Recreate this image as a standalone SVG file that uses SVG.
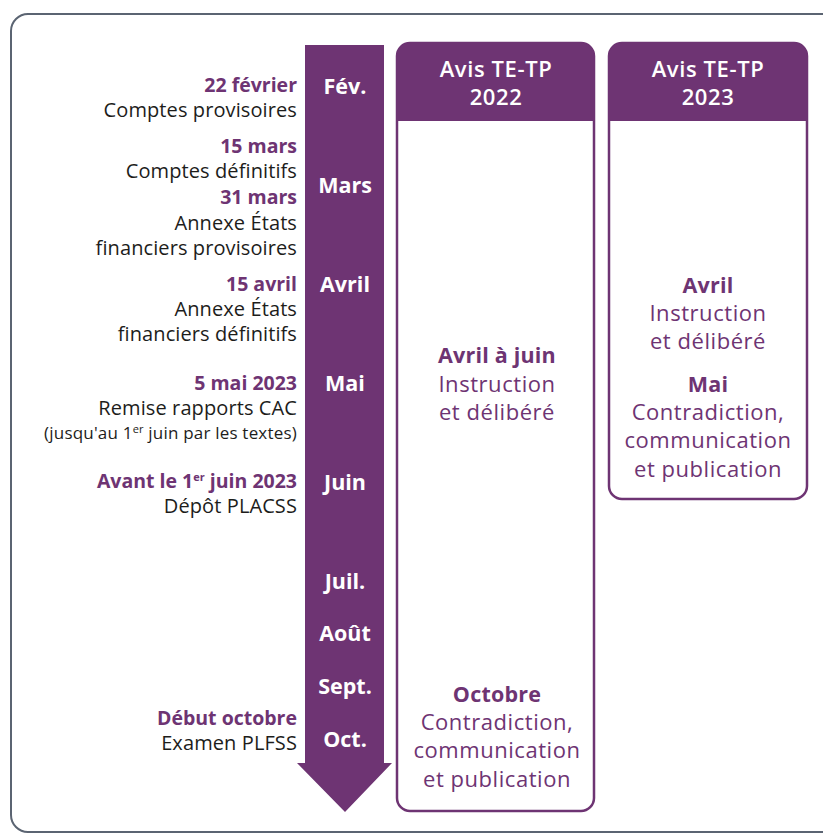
<svg xmlns="http://www.w3.org/2000/svg" width="823" height="834" viewBox="0 0 823 834">
<style>
.l{font-family:"Open Sans","Liberation Sans",sans-serif;font-size:20px;letter-spacing:0.1px;text-anchor:end;fill:#1d1d1b}
.lb{font-size:19.5px;letter-spacing:0;font-weight:700;fill:#6e3473}
.s{font-size:17px;letter-spacing:0.2px}
.m{font-family:"Open Sans","Liberation Sans",sans-serif;font-size:21.5px;font-weight:700;fill:#ffffff;text-anchor:middle}
.h{font-family:"Open Sans","Liberation Sans",sans-serif;font-size:22px;letter-spacing:0.6px;font-weight:600;fill:#ffffff;text-anchor:middle}
.b{font-family:"Open Sans","Liberation Sans",sans-serif;font-size:22px;letter-spacing:0.55px;fill:#6e3473;text-anchor:middle}
.bb{font-weight:700;font-size:21.5px;letter-spacing:0.2px}
.box{fill:#ffffff;stroke:#6e3473;stroke-width:2.5}
.sup{font-size:11px}
</style>
<rect x="11" y="14" width="840" height="818" rx="17" fill="#ffffff" stroke="#5b6472" stroke-width="2"/>

<g id="timeline">
<path d="M305 45 H384 V763 H392 L345 812 L297 763 H305 Z" fill="#6e3473"/>
<text class="m" x="345" y="94">Fév.</text>
<text class="m" x="345" y="193">Mars</text>
<text class="m" x="345" y="292">Avril</text>
<text class="m" x="345" y="391">Mai</text>
<text class="m" x="345" y="490">Juin</text>
<text class="m" x="345" y="589">Juil.</text>
<text class="m" x="345" y="641">Août</text>
<text class="m" x="345" y="694">Sept.</text>
<text class="m" x="345" y="747">Oct.</text>
</g>

<g id="events">
<text class="l lb" x="297" y="92">22 février</text>
<text class="l" x="297" y="117">Comptes provisoires</text>
<text class="l lb" x="297" y="153">15 mars</text>
<text class="l" x="297" y="178">Comptes définitifs</text>
<text class="l lb" x="297" y="204">31 mars</text>
<text class="l" x="297" y="230">Annexe États</text>
<text class="l" x="297" y="255">financiers provisoires</text>
<text class="l lb" x="297" y="291">15 avril</text>
<text class="l" x="297" y="316">Annexe États</text>
<text class="l" x="297" y="341">financiers définitifs</text>
<text class="l lb" x="297" y="390">5 mai 2023</text>
<text class="l" x="297" y="415">Remise rapports CAC</text>
<text class="l s" x="297" y="439">(jusqu'au 1<tspan class="sup" dy="-6">er</tspan><tspan dy="6"> juin par les textes)</tspan></text>
<text class="l lb" x="297" y="488">Avant le 1<tspan class="sup" dy="-7">er</tspan><tspan dy="7"> juin 2023</tspan></text>
<text class="l" x="297" y="513">Dépôt PLACSS</text>
<text class="l lb" x="297" y="725">Début octobre</text>
<text class="l" x="297" y="750">Examen PLFSS</text>
</g>

<g id="avis2022">
<rect class="box" x="397" y="43" width="197" height="768" rx="13"/>
<path d="M397 121 V56 A13 13 0 0 1 410 43 H581 A13 13 0 0 1 594 56 V121 Z" fill="#6e3473"/>
<text class="h" x="496" y="77">Avis TE-TP</text>
<text class="h" x="496" y="105">2022</text>
<text class="b bb" x="497" y="363">Avril à juin</text>
<text class="b" x="497" y="392">Instruction</text>
<text class="b" x="497" y="420">et délibéré</text>
<text class="b bb" x="497" y="702">Octobre</text>
<text class="b" x="497" y="730">Contradiction,</text>
<text class="b" x="497" y="758">communication</text>
<text class="b" x="497" y="787">et publication</text>
</g>

<g id="avis2023">
<rect class="box" x="609" y="43" width="198" height="456" rx="13"/>
<path d="M609 121 V56 A13 13 0 0 1 622 43 H794 A13 13 0 0 1 807 56 V121 Z" fill="#6e3473"/>
<text class="h" x="708" y="77">Avis TE-TP</text>
<text class="h" x="708" y="105">2023</text>
<text class="b bb" x="708" y="293">Avril</text>
<text class="b" x="708" y="321">Instruction</text>
<text class="b" x="708" y="349">et délibéré</text>
<text class="b bb" x="708" y="392">Mai</text>
<text class="b" x="708" y="420">Contradiction,</text>
<text class="b" x="708" y="448">communication</text>
<text class="b" x="708" y="477">et publication</text>
</g>
<g id="connectors"/>
</svg>
